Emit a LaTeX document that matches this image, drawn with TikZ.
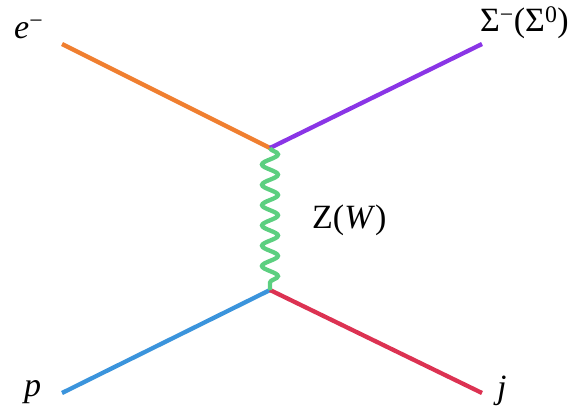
\documentclass[tikz,border=0pt]{standalone}
\usepackage{fontspec}
\setmainfont{Liberation Serif}
\usetikzlibrary{decorations.pathmorphing}
\definecolor{corange}{HTML}{F07F30}
\definecolor{cpurple}{HTML}{8A35E6}
\definecolor{cgreen}{HTML}{5CCF80}
\definecolor{cblue}{HTML}{3B94DC}
\definecolor{cred}{HTML}{DC3252}
\tikzset{
  fermion/.style={line width=4.3pt},
  boson/.style={line width=4.3pt, decorate, decoration={snake, segment length=20.3pt, amplitude=8pt, pre length=0pt, post length=0pt}},
  lbl/.style={anchor=base west, inner sep=0pt, font=\fontsize{34}{38}\selectfont}
}
\begin{document}
\begin{tikzpicture}[x=1pt,y=-1pt]
\useasboundingbox (0,0) rectangle (585,412);
\coordinate (top) at (270,148);
\coordinate (bot) at (270,290);
\coordinate (ein) at (62,44);
\coordinate (sout) at (482,44);
\coordinate (pin) at (62,393);
\coordinate (jout) at (482,393);
\draw[fermion, corange] (ein) -- (top);
\draw[fermion, cpurple] (top) -- (sout);
\draw[fermion, cblue] (pin) -- (bot);
\draw[fermion, cred] (bot) -- (jout);
\draw[boson, cgreen] (top) -- (bot);
\node[lbl] (le) at (14,38) {\textit{e}\textsuperscript{−}};
\node[lbl] (ls) at (480,32) {Σ\textsuperscript{−}(Σ\textsuperscript{0})};
\node[lbl] (lz) at (312,228) {Z(\textit{W})};
\node[lbl] (lp) at (24,396) {\textit{p}};
\node[lbl] (lj) at (497,398) {\textit{j}};
\end{tikzpicture}
\end{document}
